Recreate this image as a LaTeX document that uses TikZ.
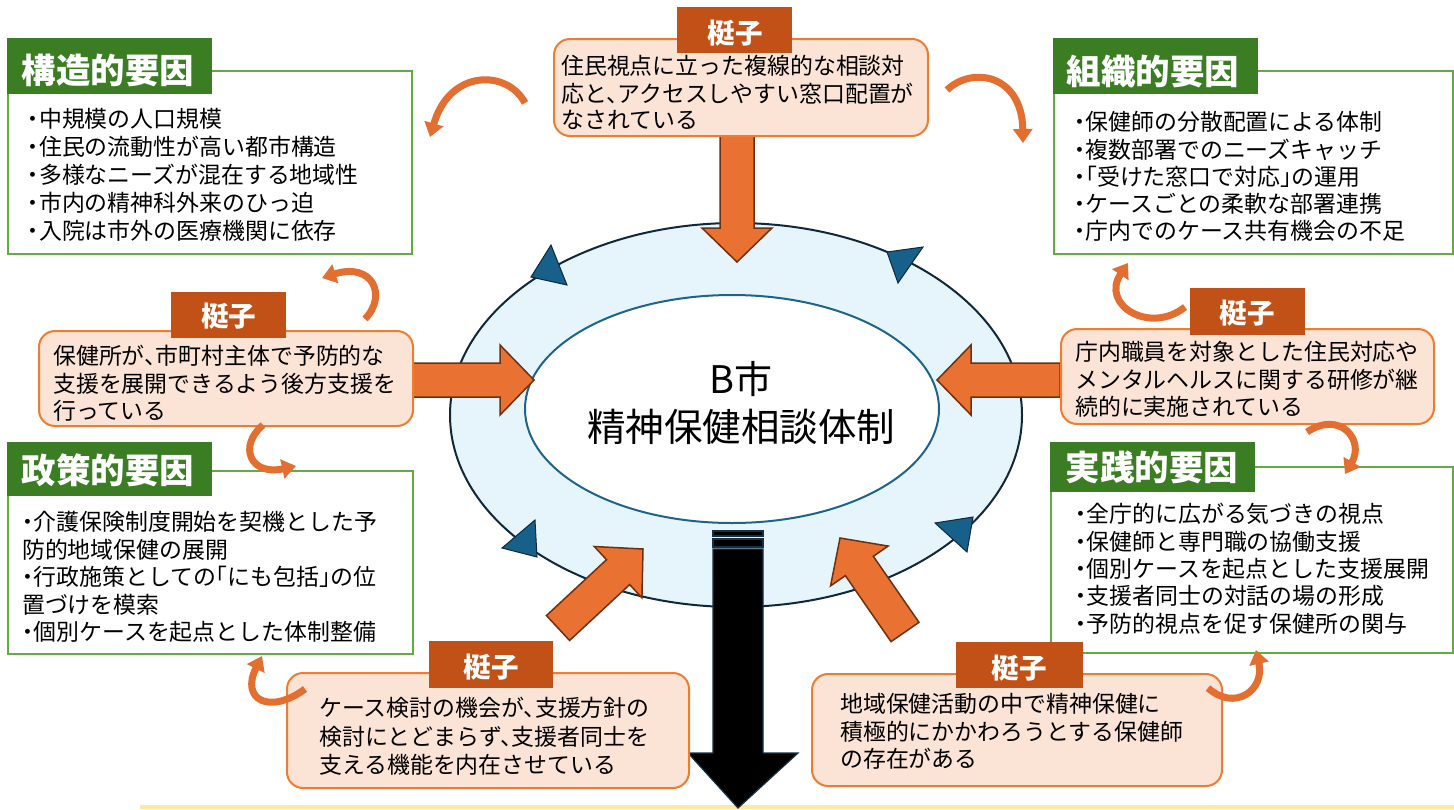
\documentclass[tikz,border=0pt]{standalone}
\usepackage{fontspec}
\setmainfont{Noto Sans CJK JP}[RawFeature=+halt]
\usetikzlibrary{calc,arrows.meta,shapes.geometric}
\definecolor{hdrgreen}{RGB}{59,125,35}
\definecolor{boxgreen}{RGB}{98,172,66}
\definecolor{lvfill}{RGB}{251,227,214}
\definecolor{lvline}{RGB}{237,125,49}
\definecolor{lvlabel}{RGB}{193,81,22}
\definecolor{arrfill}{RGB}{233,113,50}
\definecolor{arrline}{RGB}{110,48,16}
\definecolor{ringfill}{RGB}{230,245,251}
\definecolor{ringline}{RGB}{16,40,58}
\definecolor{coreline}{RGB}{30,100,138}
\definecolor{trifill}{RGB}{23,96,137}
\definecolor{blkline}{RGB}{20,50,70}
\definecolor{yline}{RGB}{253,233,160}
\definecolor{curvecol}{RGB}{226,110,48}
\newcommand\mylines[2]{\fontsize{22.9}{#1}\selectfont\begin{tabular}[t]{@{}l@{}}#2\end{tabular}}
\newcommand\blockarrow[2]{%
  \coordinate (ba-h) at ($(#2)!34pt!(#1)$);
  \draw[orangeblk] ($(#1)!17pt!90:(#2)$) -- ($(ba-h)!17pt!90:(#2)$) -- ($(ba-h)!35pt!90:(#2)$) -- (#2)
    -- ($(ba-h)!35pt!-90:(#2)$) -- ($(ba-h)!17pt!-90:(#2)$) -- ($(#1)!17pt!-90:(#2)$) -- cycle;}
\begin{document}
\begin{tikzpicture}[x=1pt,y=-1pt,
  factorbox/.style={draw=boxgreen, line width=2pt, fill=white, anchor=north west, inner sep=0pt},
  factorhdr/.style={fill=hdrgreen, anchor=north west, inner sep=0pt},
  hdrtext/.style={anchor=base, text=white, font=\fontsize{34.5}{36}\selectfont\bfseries, inner sep=0pt},
  leverbox/.style={draw=lvline, line width=2pt, fill=lvfill, rounded corners=16pt, anchor=north west, inner sep=0pt},
  leverlbl/.style={fill=lvlabel, anchor=north west, inner sep=0pt},
  lbltext/.style={anchor=base, text=white, font=\fontsize{27.5}{29}\selectfont\bfseries, inner sep=0pt},
  bodytext/.style={anchor=base west, inner sep=0pt},
  orangeblk/.style={fill=arrfill, draw=arrline, line width=1.5pt, line join=miter},
  tri/.style={fill=trifill, draw=ringline, line width=1pt},
  blk/.style={fill=black, draw=blkline, line width=1.2pt},
  curvy/.style={draw=curvecol, line width=7pt, -{Triangle[width=19pt,length=14pt]}}
]
\useasboundingbox (0,0) rectangle (1454,809);
\fill[white] (0,0) rectangle (1454,809);
\fill[yline] (140,805) rectangle (1454,809);

% central ring
\node[ellipse, draw=ringline, line width=2pt, fill=ringfill, minimum width=572pt, minimum height=384pt, inner sep=0pt] (ring) at (736,415) {};
\node[ellipse, draw=coreline, line width=2pt, fill=white, minimum width=414pt, minimum height=228pt, inner sep=0pt] (core) at (732,409) {};
\filldraw[tri] (551,245) -- (531,277) -- (567,285) -- cycle;
\filldraw[tri] (887,252) -- (923,247) -- (898,283) -- cycle;
\filldraw[tri] (502,548) -- (535,520) -- (537,557) -- cycle;
\filldraw[tri] (935,523) -- (973,517) -- (967,552) -- cycle;
\node[anchor=base, inner sep=0pt, font=\fontsize{38}{40}\selectfont] (coretitle) at (741,393) {B市};
\node[anchor=base, inner sep=0pt, font=\fontsize{38.5}{40}\selectfont] (coresub) at (741,441) {精神保健相談体制};

% factor boxes
\node[factorbox, minimum width=404pt, minimum height=183pt] (f1) at (7,70) {};
\node[factorhdr, minimum width=205pt, minimum height=56pt] (f1h) at (7,38) {};
\node[hdrtext] (f1t) at (108,83) {構造的要因};
\node[bodytext] (f1b) at (27.5,127.7) {\mylines{27.9pt}{・中規模の人口規模\\・住民の流動性が高い都市構造\\・多様なニーズが混在する地域性\\・市内の精神科外来のひっ迫\\・入院は市外の医療機関に依存}};

\node[factorbox, minimum width=399pt, minimum height=183pt] (f2) at (1053,70) {};
\node[factorhdr, minimum width=205pt, minimum height=56pt] (f2h) at (1053,38) {};
\node[hdrtext] (f2t) at (1153,84) {組織的要因};
\node[bodytext] (f2b) at (1074,130.7) {\mylines{26.3pt}{・保健師の分散配置による体制\\・複数部署でのニーズキャッチ\\・「受けた窓口で対応」の運用\\・ケースごとの柔軟な部署連携\\・庁内でのケース共有機会の不足}};

\node[factorbox, minimum width=405pt, minimum height=183pt] (f3) at (7,470) {};
\node[factorhdr, minimum width=205pt, minimum height=54pt] (f3h) at (7,442) {};
\node[hdrtext] (f3t) at (108,483) {政策的要因};
\node[bodytext] (f3b) at (22,530.7) {\mylines{27.4pt}{・介護保険制度開始を契機とした予\\防的地域保健の展開\\・行政施策としての「にも包括」の位\\置づけを模索\\・個別ケースを起点とした体制整備}};

\node[factorbox, minimum width=402pt, minimum height=186pt] (f4) at (1050,466) {};
\node[factorhdr, minimum width=205pt, minimum height=50pt] (f4h) at (1050,442) {};
\node[hdrtext] (f4t) at (1152,480) {実践的要因};
\node[bodytext] (f4b) at (1075,522.7) {\mylines{27.2pt}{・全庁的に広がる気づきの視点\\・保健師と専門職の協働支援\\・個別ケースを起点とした支援展開\\・支援者同士の対話の場の形成\\・予防的視点を促す保健所の関与}};

% block arrows
\coordinate (a1t) at (737,135); \coordinate (a1h) at (737,262);
\coordinate (a2t) at (412,380); \coordinate (a2h) at (534,380);
\coordinate (a3t) at (1060,380); \coordinate (a3h) at (937,380);
\coordinate (a4t) at (558,628); \coordinate (a4h) at (643,549);
\coordinate (a5t) at (905,632); \coordinate (a5h) at (840,538);
\blockarrow{a1t}{a1h}
\blockarrow{a2t}{a2h}
\blockarrow{a3t}{a3h}
\blockarrow{a4t}{a4h}
\blockarrow{a5t}{a5h}

% black output arrow
\filldraw[blk] (713,531) rectangle (763,536);
\filldraw[blk] (713,539) rectangle (763,547);
\filldraw[blk] (713,549) -- (763,549) -- (763,753) -- (798,753) -- (738,808) -- (688,753) -- (713,753) -- cycle;

% lever boxes
\node[leverbox, minimum width=374pt, minimum height=97pt] (l1) at (553,38) {};
\node[leverlbl, minimum width=115pt, minimum height=46pt] (l1h) at (677,7) {};
\node[lbltext] (l1t) at (735,43) {梃子};
\node[bodytext] (l1b) at (561,74.7) {\mylines{26.5pt}{住民視点に立った複線的な相談対\\応と、アクセスしやすい窓口配置が\\なされている}};

\node[leverbox, minimum width=374pt, minimum height=95pt] (l2) at (38,330) {};
\node[leverlbl, minimum width=115pt, minimum height=46pt] (l2h) at (171,292) {};
\node[lbltext] (l2t) at (228.5,326.5) {梃子};
\node[bodytext] (l2b) at (53,364.7) {\mylines{27pt}{保健所が、市町村主体で予防的な\\支援を展開できるよう後方支援を\\行っている}};

\node[leverbox, minimum width=373pt, minimum height=95pt] (l3) at (1060,328) {};
\node[leverlbl, minimum width=115pt, minimum height=47pt] (l3h) at (1190,288) {};
\node[lbltext] (l3t) at (1247,323) {梃子};
\node[bodytext] (l3b) at (1075,360.7) {\mylines{27.5pt}{庁内職員を対象とした住民対応や\\メンタルヘルスに関する研修が継\\続的に実施されている}};

\node[leverbox, minimum width=402pt, minimum height=115pt] (l4) at (286,672) {};
\node[leverlbl, minimum width=124pt, minimum height=47pt] (l4h) at (429,641) {};
\node[lbltext] (l4t) at (491,677.5) {梃子};
\node[bodytext] (l4b) at (319,716.7) {\mylines{28.5pt}{ケース検討の機会が、支援方針の\\検討にとどまらず、支援者同士を\\支える機能を内在させている}};

\node[leverbox, minimum width=410pt, minimum height=112pt] (l5) at (811,673) {};
\node[leverlbl, minimum width=127pt, minimum height=46pt] (l5h) at (956,642) {};
\node[lbltext] (l5t) at (1019,678.5) {梃子};
\node[bodytext] (l5b) at (840,712.7) {\mylines{27.5pt}{地域保健活動の中で精神保健に\\積極的にかかわろうとする保健師\\の存在がある}};

% curved feedback arrows
\coordinate (c1s) at (525,103); \coordinate (c1e) at (430,137);
\coordinate (c2s) at (947,90); \coordinate (c2e) at (1023,143);
\coordinate (c3s) at (365,319); \coordinate (c3e) at (322,278);
\coordinate (c4s) at (263,425); \coordinate (c4e) at (296,466);
\coordinate (c5s) at (305,689); \coordinate (c5e) at (262,656);
\coordinate (c6s) at (1185,307); \coordinate (c6e) at (1128,263);
\coordinate (c7s) at (1307,432); \coordinate (c7e) at (1345,474);
\coordinate (c8s) at (1208,688); \coordinate (c8e) at (1256,650);
\draw[curvy] (c1s) .. controls (508,70) and (450,68) .. (c1e);
\draw[curvy] (c2s) .. controls (972,66) and (1022,74) .. (c2e);
\draw[curvy] (c3s) .. controls (388,295) and (372,262) .. (c3e);
\draw[curvy] (c4s) .. controls (238,446) and (250,476) .. (c4e);
\draw[curvy] (c5s) .. controls (270,715) and (240,700) .. (c5e);
\draw[curvy] (c6s) .. controls (1150,335) and (1100,305) .. (c6e);
\draw[curvy] (c7s) .. controls (1340,410) and (1365,440) .. (c7e);
\draw[curvy] (c8s) .. controls (1235,712) and (1265,690) .. (c8e);
\end{tikzpicture}
\end{document}
